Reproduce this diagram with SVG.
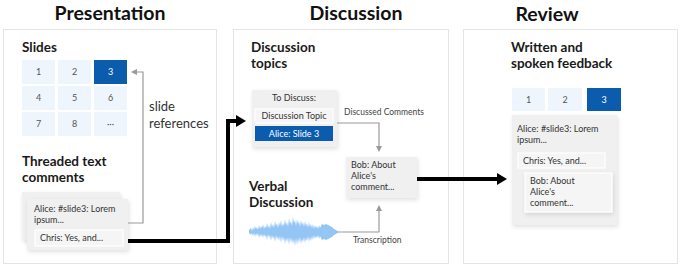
<svg xmlns="http://www.w3.org/2000/svg" width="680" height="267" viewBox="0 0 680 267">
<style>
.panel{fill:#fff;stroke:#e4e4e4;stroke-width:1}
.title{font-family:Lato,"Open Sans",sans-serif;font-weight:bold;font-size:19.5px;fill:#111}
.sub{font-family:Lato,"Open Sans",sans-serif;font-weight:bold;font-size:13.5px;fill:#1a1a1a}
.body{font-family:Lato,"Open Sans",sans-serif;font-size:9px;fill:#333}
.small{font-family:Lato,"Open Sans",sans-serif;font-size:8.5px;fill:#444}
.lbl{font-family:Lato,"Open Sans",sans-serif;font-size:13px;fill:#333}
.cell{fill:#eef5fc}
.sel{fill:#0b5cad}
.ct{font-family:Lato,"Open Sans",sans-serif;font-size:9px;fill:#555;text-anchor:middle}
.cts{font-family:Lato,"Open Sans",sans-serif;font-size:9px;fill:#fff;text-anchor:middle}
.card{fill:#f0f0f0;filter:url(#sh)}
.inner{fill:#f5f5f5;stroke:#fff;stroke-width:1.2}
.thick{fill:none;stroke:#000;stroke-width:4;marker-end:url(#big)}
.thin{fill:none;stroke:#999;stroke-width:1.2;marker-end:url(#sm)}
</style>
<defs>
<filter id="sh" x="-20%" y="-20%" width="140%" height="150%">
<feDropShadow dx="1" dy="2" stdDeviation="2" flood-color="#000" flood-opacity="0.12"/>
</filter>
<marker id="big" viewBox="0 0 10 12" markerWidth="10" markerHeight="12" markerUnits="userSpaceOnUse" refX="1" refY="6" orient="auto">
<path d="M0,0 L10,6 L0,12 z" fill="#000"/>
</marker>
<marker id="sm" viewBox="0 0 6 6" markerWidth="6" markerHeight="6" markerUnits="userSpaceOnUse" refX="1" refY="3" orient="auto">
<path d="M0,0 L6,3 L0,6 z" fill="#999"/>
</marker>
</defs>
<rect width="680" height="267" fill="#fff"/>

<g id="presentation">
<rect class="panel" x="3.5" y="29.5" width="213" height="234"/>
<text class="title" x="110" y="19.5" text-anchor="middle">Presentation</text>
</g>
<g id="discussion">
<rect class="panel" x="233.5" y="29.5" width="215" height="234"/>
<text class="title" x="356" y="19.5" text-anchor="middle">Discussion</text>
</g>
<g id="review">
<rect class="panel" x="463.5" y="29.5" width="214" height="234"/>
<text class="title" x="547" y="20.5" text-anchor="middle">Review</text>
</g>

<g id="slides">
<text class="sub" x="22" y="52">Slides</text>
<rect class="cell" x="22" y="60" width="33" height="24"/><text class="ct" x="38.5" y="75">1</text>
<rect class="cell" x="58" y="60" width="33" height="24"/><text class="ct" x="74.5" y="75">2</text>
<rect class="sel" x="94" y="60" width="33" height="24"/><text class="cts" x="110.5" y="75">3</text>
<rect class="cell" x="22" y="86" width="33" height="24"/><text class="ct" x="38.5" y="101">4</text>
<rect class="cell" x="58" y="86" width="33" height="24"/><text class="ct" x="74.5" y="101">5</text>
<rect class="cell" x="94" y="86" width="33" height="24"/><text class="ct" x="110.5" y="101">6</text>
<rect class="cell" x="22" y="112" width="33" height="24"/><text class="ct" x="38.5" y="127">7</text>
<rect class="cell" x="58" y="112" width="33" height="24"/><text class="ct" x="74.5" y="127">8</text>
<rect class="cell" x="94" y="112" width="33" height="24"/><text class="ct" x="110.5" y="127">···</text>
</g>

<g id="threaded-comments">
<text class="sub" x="22" y="166">Threaded text</text>
<text class="sub" x="22" y="182">comments</text>
<rect class="card" x="22" y="192" width="98" height="48"/>
<rect class="card" x="27" y="199" width="101" height="51"/>
<text class="body" x="34" y="212">Alice: #slide3: Lorem</text>
<text class="body" x="34" y="223">ipsum...</text>
<rect class="inner" x="35" y="230" width="88" height="16"/>
<text class="body" x="40" y="241">Chris: Yes, and...</text>
</g>

<g id="discussion-topics">
<text class="sub" x="251" y="52">Discussion</text>
<text class="sub" x="251" y="68">topics</text>
<rect class="card" x="252" y="90" width="85" height="57"/>
<text class="body" x="294" y="101" text-anchor="middle">To Discuss:</text>
<rect class="inner" x="255" y="109" width="78" height="14"/>
<text class="body" x="294" y="119" text-anchor="middle">Discussion Topic</text>
<rect class="sel" x="255" y="126" width="78" height="15"/>
<text class="body" x="294" y="137" text-anchor="middle" style="fill:#fff">Alice: Slide 3</text>
</g>

<g id="bob-comment">
<rect class="card" x="346" y="157" width="71" height="41"/>
<text class="body" x="351" y="168">Bob: About</text>
<text class="body" x="351" y="179">Alice's</text>
<text class="body" x="351" y="190">comment...</text>
</g>

<g id="verbal-discussion">
<text class="sub" x="249" y="191">Verbal</text>
<text class="sub" x="249" y="207">Discussion</text>
<path fill="#93c6f5" d="M249,230 L251,228 252,231 253,227 254,230 255,226 256,229 257,227 258,230 259,225 260,229 261,226 262,228 263,224 264,229 265,226 266,228 267,223 268,228 269,225 270,229 271,222 272,227 273,224 274,228 275,221 276,226 277,223 278,228 279,222 280,226 281,220 282,227 283,223 284,226 285,219 286,225 287,222 288,227 289,218 290,224 291,221 292,226 293,217 294,223 295,220 296,226 297,219 298,224 299,221 300,227 301,220 302,225 303,222 304,227 305,221 306,226 307,223 308,228 309,222 310,227 311,224 312,228 313,224 314,229 315,225 316,228 317,226 318,229 319,225 320,228 321,226 322,224 324,225 326,224 328,225 330,226 332,227 334,229 336,230 339,232 336,234 334,235 332,237 330,238 328,239 326,240 324,239 322,240 321,238 320,236 319,239 318,235 317,238 316,236 315,239 314,235 313,240 312,236 311,241 310,237 309,242 308,236 307,241 306,238 305,243 304,237 303,242 302,239 301,244 300,237 299,243 298,238 297,245 296,238 295,246 294,239 293,244 292,238 291,243 290,237 289,245 288,237 287,242 286,238 285,244 284,237 283,241 282,236 281,243 280,236 279,241 278,236 277,240 276,235 275,242 274,236 273,239 272,235 271,241 270,235 269,238 268,234 267,240 266,235 265,237 264,234 263,238 262,234 261,237 260,234 259,238 258,233 257,236 256,233 255,237 254,233 253,236 252,233 251,235 249,233 Z"/>
</g>

<g id="feedback">
<text class="sub" x="511" y="52">Written and</text>
<text class="sub" x="511" y="68">spoken feedback</text>
<rect class="cell" x="512" y="88" width="33" height="23"/><text class="ct" x="528.5" y="102.5">1</text>
<rect class="cell" x="548" y="88" width="34" height="23"/><text class="ct" x="565" y="102.5">2</text>
<rect class="sel" x="587" y="88" width="34" height="23"/><text class="cts" x="604" y="102.5">3</text>
<rect class="card" x="512" y="115" width="105" height="110"/>
<text class="body" x="517" y="132">Alice: #slide3: Lorem</text>
<text class="body" x="517" y="143">ipsum...</text>
<rect class="inner" x="518" y="153" width="87" height="15"/>
<text class="body" x="523" y="164">Chris: Yes, and...</text>
<rect class="inner" x="525" y="173" width="87" height="39" style="filter:url(#sh)"/>
<text class="body" x="530" y="184">Bob: About</text>
<text class="body" x="530" y="195">Alice's</text>
<text class="body" x="530" y="206">comment...</text>
</g>

<g id="connectors">
<path class="thin" d="M128,223 H143 V72 H136"/>
<text class="lbl" x="149" y="111">slide</text>
<text class="lbl" x="149" y="128">references</text>
<path class="thick" d="M128,241 H228 V121 H237"/>
<path class="thin" d="M337,123 H379 V147"/>
<text class="small" x="344" y="115">Discussed Comments</text>
<path class="thin" d="M338,232 H379 V210"/>
<text class="small" x="353" y="243">Transcription</text>
<path class="thick" d="M417,179 H498"/>
</g>
</svg>
